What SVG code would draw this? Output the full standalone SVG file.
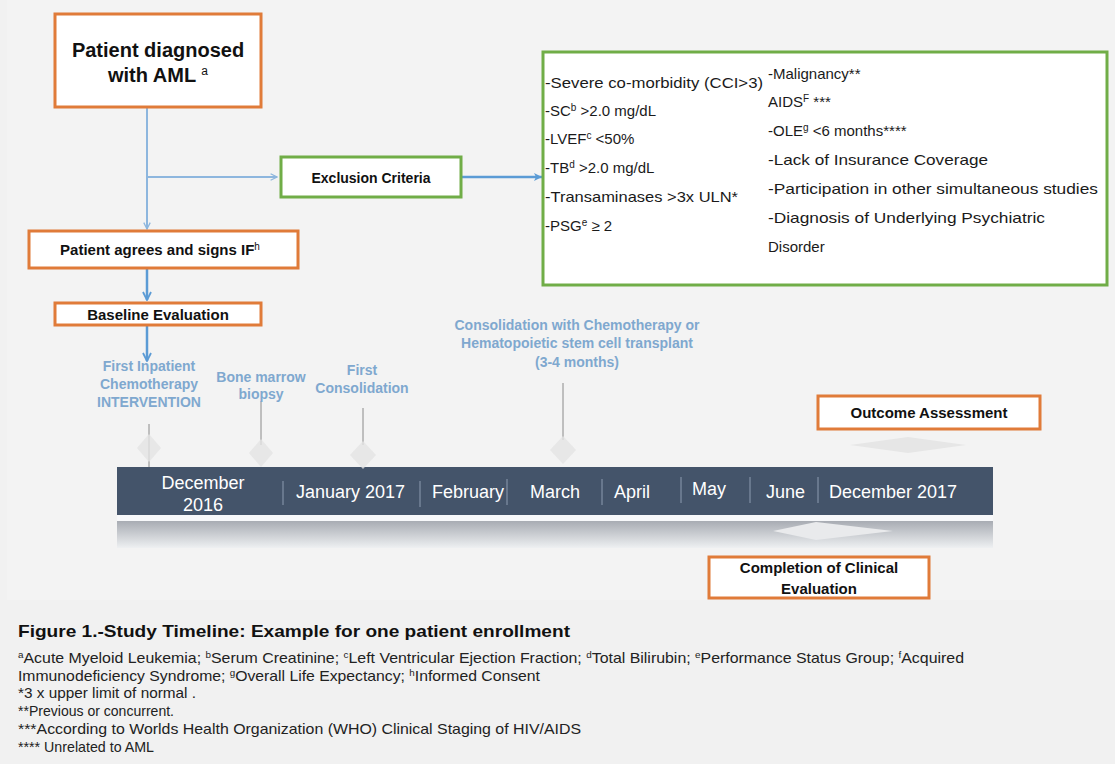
<svg xmlns="http://www.w3.org/2000/svg" width="1115" height="764" viewBox="0 0 1115 764">
<defs>
<style>
.bg{fill:#f1f1f1}
.obox{fill:#ffffff;stroke:#e07b39;stroke-width:3}
.gbox{fill:#ffffff;stroke:#70ad47;stroke-width:3}
.btxt{font-family:"Liberation Sans",Arial,sans-serif;font-weight:bold;fill:#111;text-anchor:middle}
.crit{font-family:"Liberation Sans",Arial,sans-serif;font-size:15px;fill:#1a1a1a}
.lbl{font-family:"Liberation Sans",Arial,sans-serif;font-size:14px;fill:#7fa8cf;text-anchor:middle;font-weight:bold}
.mon{font-family:"Liberation Sans",Arial,sans-serif;font-size:18px;fill:#ffffff}
.sep{stroke:#8c9bb0;stroke-width:1}
.tick{stroke:#8a8a8a;stroke-width:1}
.dia{fill:#e3e3e3}
.cap{font-family:"Liberation Sans",Arial,sans-serif;font-size:17px;font-weight:bold;fill:#111}
.fn{font-family:"Liberation Sans",Arial,sans-serif;font-size:14.5px;fill:#222}
.lc{stroke:#8db6de;stroke-width:2;fill:none}
.dc{stroke:#5b9bd5;stroke-width:2.5;fill:none}
</style>
<marker id="chev" viewBox="0 0 10 10" refX="9" refY="5" markerWidth="8" markerHeight="8" orient="auto" markerUnits="userSpaceOnUse">
<polyline points="1,1 9,5 1,9" fill="none" stroke="#8db6de" stroke-width="1.6"/>
</marker>
<marker id="chevd" viewBox="0 0 10 10" refX="9" refY="5" markerWidth="10" markerHeight="10" orient="auto" markerUnits="userSpaceOnUse">
<polyline points="1,1 9,5 1,9" fill="none" stroke="#5b9bd5" stroke-width="1.8"/>
</marker>
<marker id="tri" viewBox="0 0 10 10" refX="9" refY="5" markerWidth="10" markerHeight="10" orient="auto" markerUnits="userSpaceOnUse">
<path d="M1,1 L9,5 L1,9 L3,5 Z" fill="#5b9bd5"/>
</marker>
<linearGradient id="shadow" x1="0" y1="0" x2="0" y2="1">
<stop offset="0" stop-color="#a8acb3"/>
<stop offset="1" stop-color="#eef0f2"/>
</linearGradient>
</defs>

<rect class="bg" x="0" y="0" width="1115" height="764"/>
<rect x="7" y="0" width="1108" height="600" fill="#f3f3f3"/>

<g id="connectors">
<line class="lc" x1="147" y1="108" x2="147" y2="229" marker-end="url(#chev)"/>
<line class="lc" x1="147" y1="177" x2="277" y2="177" marker-end="url(#chev)"/>
<line class="dc" x1="462" y1="177" x2="542" y2="177" marker-end="url(#tri)"/>
<line class="dc" x1="147" y1="269" x2="147" y2="300" marker-end="url(#chevd)"/>
<line class="dc" x1="147" y1="326" x2="147" y2="361" marker-end="url(#chevd)"/>
</g>

<g id="node-diagnosed">
<rect class="obox" x="55" y="14" width="206" height="93"/>
<text class="btxt" x="158" y="57" font-size="20">Patient diagnosed</text>
<text class="btxt" x="158" y="82" font-size="20">with AML <tspan font-size="12" font-weight="normal" baseline-shift="super">a</tspan></text>
</g>

<g id="node-exclusion">
<rect class="gbox" x="281" y="157" width="180" height="40"/>
<text class="btxt" x="371" y="183" font-size="14">Exclusion Criteria</text>
</g>

<g id="node-criteria">
<rect class="gbox" x="543" y="52" width="564" height="233"/>
<text class="crit" x="545" y="88" textLength="218" lengthAdjust="spacingAndGlyphs">-Severe co-morbidity (CCI&gt;3)</text>
<text class="crit" x="545" y="116">-SC<tspan font-size="10" baseline-shift="super">b</tspan> &gt;2.0 mg/dL</text>
<text class="crit" x="545" y="144">-LVEF<tspan font-size="10" baseline-shift="super">c</tspan> &lt;50%</text>
<text class="crit" x="545" y="173">-TB<tspan font-size="10" baseline-shift="super">d</tspan> &gt;2.0 mg/dL</text>
<text class="crit" x="545" y="202" textLength="193" lengthAdjust="spacingAndGlyphs">-Transaminases  &gt;3x ULN*</text>
<text class="crit" x="545" y="231">-PSG<tspan font-size="10" baseline-shift="super">e</tspan> ≥ 2</text>
<text class="crit" x="768" y="79">-Malignancy**</text>
<text class="crit" x="768" y="107">AIDS<tspan font-size="10" baseline-shift="super">F</tspan> ***</text>
<text class="crit" x="768" y="136">-OLE<tspan font-size="10" baseline-shift="super">g</tspan> &lt;6 months****</text>
<text class="crit" x="768" y="165" textLength="220" lengthAdjust="spacingAndGlyphs">-Lack of Insurance Coverage</text>
<text class="crit" x="768" y="194" textLength="330" lengthAdjust="spacingAndGlyphs">-Participation in other simultaneous studies</text>
<text class="crit" x="768" y="223" textLength="277" lengthAdjust="spacingAndGlyphs">-Diagnosis  of Underlying Psychiatric</text>
<text class="crit" x="768" y="252">Disorder</text>
</g>

<g id="node-agrees">
<rect class="obox" x="29" y="231" width="269" height="37"/>
<text class="btxt" x="160" y="255" font-size="15">Patient agrees and signs IF<tspan font-size="10" font-weight="normal" baseline-shift="super">h</tspan></text>
</g>

<g id="node-baseline">
<rect class="obox" x="55" y="303" width="206" height="22"/>
<text class="btxt" x="158" y="320" font-size="15">Baseline Evaluation</text>
</g>

<g id="timeline">
<rect x="117" y="521" width="876" height="27" fill="url(#shadow)"/>
<rect x="117" y="515" width="876" height="6" fill="#f7f8fa"/>
<rect x="117" y="467" width="876" height="48" fill="#44546a"/>
<line class="sep" x1="283" y1="481" x2="283" y2="505"/>
<line class="sep" x1="420" y1="481" x2="420" y2="507"/>
<line class="sep" x1="507" y1="479" x2="507" y2="505"/>
<line class="sep" x1="602" y1="479" x2="602" y2="505"/>
<line class="sep" x1="681" y1="477" x2="681" y2="503"/>
<line class="sep" x1="750" y1="477" x2="750" y2="503"/>
<line class="sep" x1="818" y1="477" x2="818" y2="503"/>
<text class="mon" x="203" y="489" text-anchor="middle">December</text>
<text class="mon" x="203" y="511" text-anchor="middle">2016</text>
<text class="mon" x="296" y="498">January  2017</text>
<text class="mon" x="432" y="498">February</text>
<text class="mon" x="530" y="498">March</text>
<text class="mon" x="614" y="498">April</text>
<text class="mon" x="692" y="495">May</text>
<text class="mon" x="766" y="498">June</text>
<text class="mon" x="829" y="498">December 2017</text>
</g>

<g id="milestone-first-inpatient">
<line class="tick" x1="149" y1="424" x2="149" y2="467"/>
<path class="dia" d="M149,434 L161,448 L149,462 L137,448 Z" opacity="0.8"/>
<text class="lbl" x="149" y="371">First Inpatient</text>
<text class="lbl" x="149" y="389">Chemotherapy</text>
<text class="lbl" x="149" y="407">INTERVENTION</text>
</g>

<g id="milestone-biopsy">
<line class="tick" x1="261" y1="401" x2="261" y2="445"/>
<path class="dia" d="M261,439 L273,453 L261,467 L249,453 Z" opacity="0.8"/>
<text class="lbl" x="261" y="382" font-size="13">Bone marrow</text>
<text class="lbl" x="261" y="399" font-size="13">biopsy</text>
</g>

<g id="milestone-consolidation">
<line class="tick" x1="363" y1="408" x2="363" y2="445"/>
<path class="dia" d="M363,441 L376,455 L363,469 L350,455 Z" opacity="0.8"/>
<text class="lbl" x="362" y="375">First</text>
<text class="lbl" x="362" y="393">Consolidation</text>
</g>

<g id="milestone-chemo-transplant">
<line class="tick" x1="563" y1="383" x2="563" y2="440"/>
<path class="dia" d="M563,436 L576,450 L563,464 L550,450 Z" opacity="0.8"/>
<text class="lbl" x="577" y="330">Consolidation  with Chemotherapy or</text>
<text class="lbl" x="577" y="348">Hematopoietic stem  cell transplant</text>
<text class="lbl" x="577" y="367">(3-4 months)</text>
</g>

<g id="node-outcome">
<path d="M908,437 L966,445 L908,453 L850,445 Z" fill="#e6e6e6"/>
<rect class="obox" x="818" y="396" width="222" height="33"/>
<text class="btxt" x="929" y="418" font-size="15">Outcome Assessment</text>
</g>

<g id="node-completion">
<path d="M816,522 L893,531 L816,540 L773,531 Z" fill="#e9eaec"/>
<rect class="obox" x="709" y="557" width="220" height="41"/>
<text class="btxt" x="819" y="573" font-size="15">Completion of Clinical</text>
<text class="btxt" x="819" y="594" font-size="15">Evaluation</text>
</g>

<g id="caption">
<text class="cap" x="18" y="637" textLength="552" lengthAdjust="spacingAndGlyphs">Figure 1.-Study  Timeline: Example for one patient enrollment</text>
<text class="fn" x="18" y="663" textLength="946" lengthAdjust="spacingAndGlyphs"><tspan font-size="9" baseline-shift="super">a</tspan>Acute Myeloid Leukemia; <tspan font-size="9" baseline-shift="super">b</tspan>Serum Creatinine; <tspan font-size="9" baseline-shift="super">c</tspan>Left Ventricular Ejection Fraction; <tspan font-size="9" baseline-shift="super">d</tspan>Total Bilirubin; <tspan font-size="9" baseline-shift="super">e</tspan>Performance  Status Group; <tspan font-size="9" baseline-shift="super">f</tspan>Acquired</text>
<text class="fn" x="18" y="681" textLength="522" lengthAdjust="spacingAndGlyphs">Immunodeficiency  Syndrome; <tspan font-size="9" baseline-shift="super">g</tspan>Overall  Life Expectancy; <tspan font-size="9" baseline-shift="super">h</tspan>Informed  Consent</text>
<text class="fn" x="18" y="698" textLength="178" lengthAdjust="spacingAndGlyphs">*3 x upper  limit of normal  .</text>
<text class="fn" x="18" y="716" textLength="156" lengthAdjust="spacingAndGlyphs">**Previous  or concurrent.</text>
<text class="fn" x="18" y="734" textLength="563" lengthAdjust="spacingAndGlyphs">***According to Worlds Health Organization (WHO)  Clinical Staging of HIV/AIDS</text>
<text class="fn" x="18" y="752" textLength="136" lengthAdjust="spacingAndGlyphs">**** Unrelated  to AML</text>
</g>
</svg>
